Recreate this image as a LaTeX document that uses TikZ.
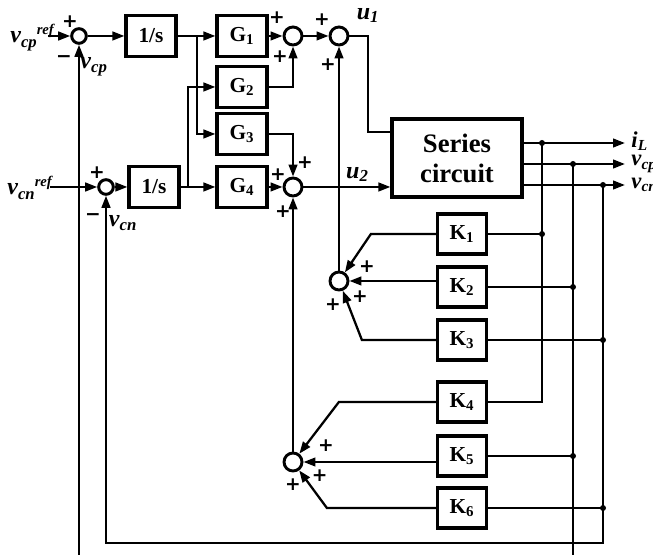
\documentclass[tikz,border=0pt]{standalone}
\usepackage{fontspec}
\setmainfont{Liberation Serif}
\newfontfamily\signfont{DejaVu Sans}
\usetikzlibrary{arrows.meta,positioning}
\newcommand{\sigref}[1]{v\raisebox{-3.5pt}{\fontsize{12.5}{14}\selectfont #1}\raisebox{6.5pt}{\fontsize{11}{12}\selectfont ref}}
\newcommand{\outsig}[2]{#1\raisebox{-2.5pt}{\fontsize{11.5}{13}\selectfont #2}}

\begin{document}
\begin{tikzpicture}[on grid,line width=1.7pt,
    >={Triangle[length=9pt,width=6.5pt]},
    blk/.style={draw,line width=2.4pt,minimum width=37.5pt,minimum height=30.75pt,inner sep=0pt,font=\fontsize{16}{18}\selectfont\bfseries},
    kblk/.style={blk,minimum width=36.75pt,minimum height=30pt},
    sumin/.style={draw,circle,line width=2.2pt,minimum size=11pt,inner sep=0pt},
    sumk/.style={sumin,minimum size=13.5pt},
    sgn/.style={font=\signfont\fontsize{14}{16}\selectfont\bfseries,inner sep=0pt},
    sig/.style={font=\fontsize{18}{20}\selectfont\bfseries\itshape,inner sep=0pt},
    osig/.style={sig,font=\fontsize{17}{19}\selectfont\bfseries\itshape},
    jdot/.style={circle,fill,inner sep=0pt,minimum size=4.5pt}]
    \useasboundingbox (0,0) rectangle (489.75pt,-416.25pt);
    \coordinate (floor) at (0,-416.25pt);
    \coordinate (ret) at (0,-407.25pt);

    \node[sumin] (S1) at (59.25pt,-27pt) {};
    \node[blk,right=54pt of S1] (I1) {1/s};
    \node[blk,right=68.25pt of I1] (G1) {G\textsubscript{1}};
    \node[blk,below=38.25pt of G1] (G2) {G\textsubscript{2}};
    \node[blk,below=35.25pt of G2] (G3) {G\textsubscript{3}};
    \node[blk,below=39.75pt of G3] (G4) {G\textsubscript{4}};
    \node[blk,left=66pt of G4] (I2) {1/s};
    \node[sumin,left=36pt of I2] (S2) {};
    \node[sumk,right=38.25pt of G1] (S3) {};
    \node[sumk,right=34.5pt of S3] (S5) {};
    \node[sumk,right=38.25pt of G4] (S4) {};
    \node[blk,minimum width=97.5pt,minimum height=58.5pt,align=center,font=\fontsize{20}{22.5}\selectfont\bfseries,
      above right=21.75pt and 123pt of S4] (SC) {Series\\circuit};
    \node[kblk,below right=57pt and 3.75pt of SC] (K1) {K\textsubscript{1}};
    \node[kblk,below=39.75pt of K1] (K2) {K\textsubscript{2}};
    \node[kblk,below=39.75pt of K2] (K3) {K\textsubscript{3}};
    \node[kblk,below=46.5pt of K3] (K4) {K\textsubscript{4}};
    \node[kblk,below=40.5pt of K4] (K5) {K\textsubscript{5}};
    \node[kblk,below=39pt of K5] (K6) {K\textsubscript{6}};
    \node[sumk,above left=4.5pt and 92.25pt of K2] (S6) {};
    \node[sumk,below left=4.5pt and 126.75pt of K5] (S7) {};

    \coordinate[left=23.25pt of S1] (in1);
    \coordinate[left=42pt of S2] (in2);
    \coordinate[right=34.5pt of I1] (b1);
    \coordinate[right=25.5pt of I2] (b2);
    \coordinate[right=21.75pt of S5] (u1c);
    \coordinate[above right=11.25pt and 63.75pt of SC] (iL);
    \coordinate[below right=4.5pt and 87pt of SC] (vp);
    \coordinate[below right=20.25pt and 109.5pt of SC] (vn);
    \coordinate[right=16.5pt of vn] (rt);

    \node[sig,anchor=base east] (vcpr) at ([xshift=-18pt,yshift=-5.25pt]S1) {\sigref{cp}};
    \node[sig,anchor=base east] (vcnr) at ([xshift=-39.75pt,yshift=-6pt]S2) {\sigref{cn}};
    \node[sig,below right=23.25pt and 11.25pt of S1] (fcp) {v\textsubscript{cp}};
    \node[sig,below right=27pt and 12.75pt of S2] (fcn) {v\textsubscript{cn}};
    \node[sig,above=9pt of u1c] (lu1) {u\textsubscript{1}};

    \node[sgn,above left=10.5pt and 6.75pt of S1] (p1) {+};
    \node[sgn,below left=17.25pt and 11.25pt of S1] (m1) {−};
    \node[sgn,above left=10.5pt and 6.75pt of S2] (p2) {+};
    \node[sgn,below left=22.5pt and 9.75pt of S2] (m2) {−};
    \node[sgn,above left=13.5pt and 12pt of S3] (p3a) {+};
    \node[sgn,below left=15.75pt and 9.75pt of S3] (p3b) {+};
    \node[sgn,above left=12pt and 12.75pt of S5] (p5a) {+};
    \node[sgn,below left=21.75pt and 8.25pt of S5] (p5b) {+};
    \node[sgn,above left=9pt and 11.25pt of S4] (p4a) {+};
    \node[sgn,above right=18pt and 9pt of S4] (p4b) {+};
    \node[sgn,below left=18.75pt and 7.5pt of S4] (p4c) {+};
    \node[sgn,above right=10.5pt and 21pt of S6] (p6a) {+};
    \node[sgn,below right=12pt and 15.75pt of S6] (p6b) {+};
    \node[sgn,below left=18pt and 4.5pt of S6] (p6c) {+};
    \node[sgn,above right=12pt and 24.75pt of S7] (p7a) {+};
    \node[sgn,below right=10.5pt and 20pt of S7] (p7b) {+};
    \node[sgn,below=17pt of S7] (p7c) {+};

    \draw[->] (in1) -- (S1);
    \draw[->] (S1) -- (I1);
    \draw[->] (I1) -- (G1);
    \draw[->] (b1) |- (G3);
    \draw[->] (G1) -- (S3);
    \draw[->] (G2) -| (S3);
    \draw[->] (S3) -- (S5);
    \draw (S5) -- (u1c) |- ([yshift=19.5pt]SC.west);
    \draw[->] (in2) -- (S2);
    \draw[->] (S2) -- (I2);
    \draw[->] (I2) -- (G4);
    \draw[->] (b2) |- (G2);
    \draw[->] (G3) -| (S4);
    \draw[->] (G4) -- (S4);
    \draw[->] (S4) -- (SC.west |- S4) node[sig,pos=0.62,above=3pt]{u\textsubscript{2}};

    \draw[->] (SC.east |- iL) -- (iL -| rt) node[osig,right=4pt,yshift=1.5pt]{\outsig{i}{L}};
    \draw[->] (SC.east |- vp) -- (vp -| rt) node[osig,right=4pt]{\outsig{v}{cp}};
    \draw[->] (SC.east |- vn) -- (vn -| rt) node[osig,right=4pt]{\outsig{v}{cn}};
    \node[jdot] (d1) at (iL) {};
    \node[jdot] (d2) at (vp) {};
    \node[jdot] (d3) at (vn) {};

    \draw (iL) -- (iL |- K4) -- (K4);
    \draw (vp) -- (vp |- floor);
    \draw[->] (vn) -- (vn |- ret) -| (S2);
    \draw[->] (S1 |- floor) -- (S1);
    \draw (K1) -- (K1 -| iL) node[jdot]{};
    \draw (K2) -- (K2 -| vp) node[jdot]{};
    \draw (K3) -- (K3 -| vn) node[jdot]{};
    \draw (K5) -- (K5 -| vp) node[jdot]{};
    \draw (K6) -- (K6 -| vn) node[jdot]{};

    \draw[->] (K1.west) -- ++(-48.75pt,0) -- (S6);
    \draw[->] (K2.west |- S6) -- (S6);
    \draw[->] (K3.west) -- ++(-55.5pt,0) -- (S6);
    \draw[->] (K4.west) -- ++(-72.75pt,0) -- (S7);
    \draw[->] (K5.west |- S7) -- (S7);
    \draw[->] (K6.west) -- ++(-81.75pt,0) -- (S7);
    \draw[->] (S6) -- (S5);
    \draw[->] (S7) -- (S4);
  \end{tikzpicture}
\end{document}
